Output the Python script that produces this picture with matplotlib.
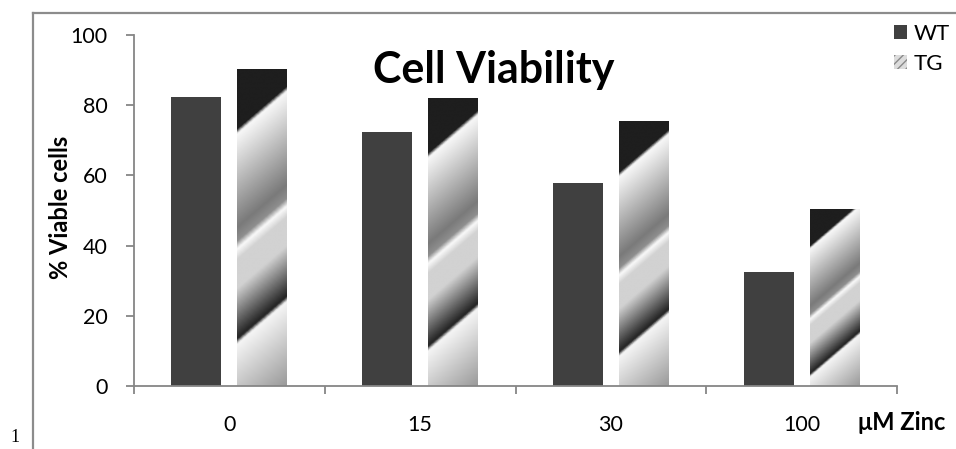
import numpy as np
import matplotlib
matplotlib.use("Agg")
import matplotlib.pyplot as plt
from matplotlib.colors import LinearSegmentedColormap
from matplotlib.patches import Patch
from matplotlib.lines import Line2D

plt.rcParams['font.family'] = ['Lato', 'DejaVu Sans']

categories = ["0", "15", "30", "100"]
wt_values = [82.3, 72.4, 57.8, 32.4]
tg_values = [90.2, 81.8, 75.3, 50.4]
series_names = ["WT", "TG"]
title = "Cell Viability"
ylabel = "% Viable cells"
xlabel = "\u03bcM Zinc"

W, H, DPI = 956, 449, 100
fig = plt.figure(figsize=(W / DPI, H / DPI), dpi=DPI)
ax = fig.add_axes([134 / W, (H - 386) / H, (897 - 134) / W, (386 - 35) / H])

x = np.arange(len(categories))
bw = 0.262
off = 0.173
ax.set_xlim(-0.5, len(categories) - 0.5)
ax.set_ylim(0, 100)

ax.bar(x - off, wt_values, width=bw, color="#404040", zorder=2)
tg_bars = ax.bar(x + off, tg_values, width=bw, facecolor="none", edgecolor="none", zorder=3)

# diagonal banded gradient fill for TG bars
stops = [
    (0.0, "#1e1e1e"), (0.165, "#1e1e1e"), (0.178, "#f8f8f8"),
    (0.44, "#7a7a7a"), (0.478, "#8e8e8e"), (0.50, "#fafafa"),
    (0.53, "#d2d2d2"), (0.61, "#d2d2d2"), (0.752, "#222222"),
    (0.766, "#f5f5f5"), (1.0, "#9a9a9a"),
]
cmap = LinearSegmentedColormap.from_list("tg", stops)
fig.canvas.draw()
k = 0.85
for rect in tg_bars:
    x0, y0 = rect.get_x(), rect.get_y()
    w, h = rect.get_width(), rect.get_height()
    p0 = ax.transData.transform((x0, y0))
    p1 = ax.transData.transform((x0 + w, y0 + h))
    wpx, hpx = abs(p1[0] - p0[0]), abs(p1[1] - p0[1])
    ny, nx = int(hpx) * 2, int(wpx) * 2
    yy = np.linspace(0, hpx, ny)[:, None]
    xx = np.linspace(0, wpx, nx)[None, :]
    t = (yy + k * xx) / (hpx + k * wpx)
    ax.imshow(t, cmap=cmap, vmin=0, vmax=1, origin="upper",
              extent=(x0, x0 + w, y0, y0 + h), aspect="auto",
              interpolation="bilinear", zorder=2.5)
ax.set_xlim(-0.5, len(categories) - 0.5)
ax.set_ylim(0, 100)

axis_col = "#868686"
for s in ["top", "right"]:
    ax.spines[s].set_visible(False)
for s in ["left", "bottom"]:
    ax.spines[s].set_color(axis_col)
    ax.spines[s].set_linewidth(1.3)

ax.set_yticks([0, 20, 40, 60, 80, 100])
ax.tick_params(axis="y", length=6, width=1.3, color=axis_col, pad=13, labelsize=15.5)
ax.set_xticks(np.arange(len(categories) + 1) - 0.5)
ax.set_xticklabels([])
ax.set_xticks(x, minor=True)
ax.set_xticklabels(categories, minor=True)
ax.tick_params(axis="x", which="major", length=6, width=1.3, color=axis_col)
ax.tick_params(axis="x", which="minor", length=0, pad=21, labelsize=15.5)

ax.text(0.472, 0.90, title, transform=ax.transAxes, ha="center", va="center",
        fontsize=31, fontweight="bold")
fig.text(60 / W, 1 - 207 / H, ylabel, rotation=90, ha="center", va="center",
         fontsize=17, fontweight="bold")
fig.text(902 / W, 1 - 422 / H, xlabel, ha="center", va="center",
         fontsize=17, fontweight="bold")

handles = [Patch(facecolor="#404040", edgecolor="none"),
           Patch(facecolor="#dcdcdc", edgecolor="#8a8a8a", hatch="////", linewidth=0)]
leg = fig.legend(handles, series_names, loc="upper left",
                 bbox_to_anchor=(894 / W, 1 - 24 / H), frameon=False,
                 fontsize=16, handlelength=0.6, handleheight=0.6,
                 handletextpad=0.3, labelspacing=0.45, borderaxespad=0, borderpad=0)

# outer frame lines
fig.add_artist(Line2D([33 / W, 33 / W], [0, 1 - 13 / H], transform=fig.transFigure,
                      color="#8c8c8c", linewidth=1.6))
fig.add_artist(Line2D([33 / W, 1], [1 - 13 / H, 1 - 13 / H], transform=fig.transFigure,
                      color="#8c8c8c", linewidth=1.6))
fig.text(15 / W, 1 - 437 / H, "1", ha="center", va="center", fontsize=13,
         family="Liberation Serif")

fig.savefig("out.png", dpi=DPI)
